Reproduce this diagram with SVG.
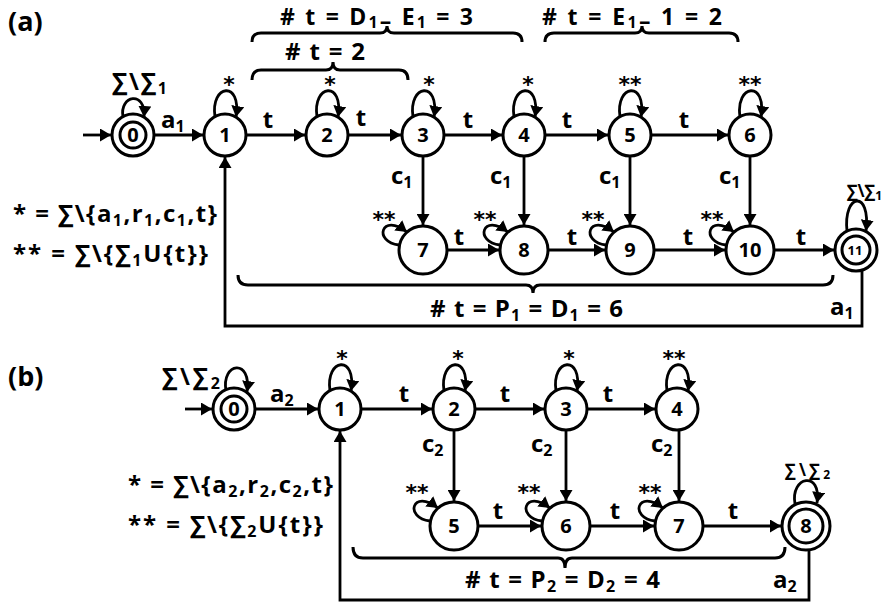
<svg xmlns="http://www.w3.org/2000/svg" width="883" height="608" viewBox="0 0 883 608">
<style>
text{font-family:'Open Sans','DejaVu Sans',sans-serif;font-weight:bold;fill:#000}
.l{font-size:24px}
.t23{font-size:23px}
.s{font-size:16px}
.sm{font-size:17px}
.ss{font-size:12px}
.n{font-size:20px;text-anchor:middle}
.m{text-anchor:middle}
.k{font-family:'DejaVu Sans',sans-serif;font-size:22px;text-anchor:middle}
.st{fill:#fff;stroke:#000;stroke-width:3}
.e{fill:none;stroke:#000;stroke-width:2.8;marker-end:url(#ah)}
.b{fill:none;stroke:#000;stroke-width:3}
</style>
<defs>
<marker id="ah" markerUnits="userSpaceOnUse" markerWidth="13" markerHeight="13" refX="11" refY="6.5" orient="auto"><path d="M0,0 L11,6.5 L0,13 z" fill="#000"/></marker>
</defs>

<!-- ===== (a) ===== -->
<text class="l" x="8" y="31" style="font-size:27px">(a)</text>

<g id="braces-a" class="braces">
<path class="b" d="M252,42 Q252,33 261,33 H380 Q387,33 387,26 Q387,33 394,33 H513 Q522,33 522,42"/>
<path class="b" d="M252,80 Q252,70 261,70 H326 Q333,70 333,62 Q333,70 340,70 H399 Q408,70 408,80"/>
<path class="b" d="M545,42 Q545,33 554,33 H635 Q642,33 642,26 Q642,33 649,33 H729 Q738,33 738,42"/>
<path class="b" d="M238,275 Q238,285 248,285 H526 Q533,285 533,293 Q533,285 540,285 H823 Q833,285 833,275"/>
<text class="t23" x="280" y="25" textLength="193"># t = D<tspan class="s" dy="3">1</tspan><tspan dy="1">– </tspan><tspan dy="-4">E</tspan><tspan class="s" dy="3">1</tspan><tspan dy="-3"> = 3</tspan></text>
<text class="l" x="285" y="60" textLength="80"># t = 2</text>
<text class="t23" x="542" y="25" textLength="180"># t = E<tspan class="s" dy="3">1</tspan><tspan dy="1">– </tspan><tspan dy="-4">1 = 2</tspan></text>
<text class="l" x="430" y="317" textLength="193"># t = P<tspan class="s" dy="4">1</tspan><tspan dy="-4"> = D</tspan><tspan class="s" dy="4">1</tspan><tspan dy="-4"> = 6</tspan></text>
</g>

<g id="legend-a">
<text class="l" x="13" y="222" textLength="204">* = ∑\{a<tspan class="s" dy="4">1</tspan><tspan dy="-4">,r</tspan><tspan class="s" dy="4">1</tspan><tspan dy="-4">,c</tspan><tspan class="s" dy="4">1</tspan><tspan dy="-4">,t}</tspan></text>
<text class="l" x="13" y="262" textLength="195">** = ∑\{∑<tspan class="s" dy="4">1</tspan><tspan dy="-4">U{t}}</tspan></text>
</g>

<g id="edges-a">
<path class="e" d="M83,135 H111"/>
<path class="e" d="M154,135 H203"/>
<path class="e" d="M246,135 H305"/>
<path class="e" d="M348,135 H401"/>
<path class="e" d="M444,135 H502"/>
<path class="e" d="M545,135 H608"/>
<path class="e" d="M651,135 H728"/>
<path class="e" d="M423,156 V225"/>
<path class="e" d="M524,156 V225"/>
<path class="e" d="M630,156 V225"/>
<path class="e" d="M750,156 V225"/>
<path class="e" d="M447,250 H499"/>
<path class="e" d="M548,250 H605"/>
<path class="e" d="M654,250 H725"/>
<path class="e" d="M774,250 H834"/>
<path class="e" d="M862,270 V326 H225 V157"/>
<!-- self loops -->
<path class="e" d="M123,117 C119,95 146,90 144,117"/>
<path class="e" d="M215,117 C210,84 242,80 236,117"/>
<path class="e" d="M317,117 C312,84 344,80 338,117"/>
<path class="e" d="M413,117 C408,84 440,80 434,117"/>
<path class="e" d="M514,117 C509,84 541,80 535,117"/>
<path class="e" d="M620,117 C615,84 647,80 641,117"/>
<path class="e" d="M740,117 C735,84 767,80 761,117"/>
<path class="e" d="M399,245 C373,242 381,212 407,232"/>
<path class="e" d="M500,245 C474,242 482,212 508,232"/>
<path class="e" d="M606,245 C580,242 588,212 614,232"/>
<path class="e" d="M726,245 C700,242 708,212 734,232"/>
<path class="e" d="M847,231 C843,193 871,189 866,231"/>
<!-- labels -->
<text class="l" x="112" y="90" textLength="55">∑\∑<tspan class="s" dy="4">1</tspan></text>
<text class="l" x="161" y="128">a<tspan class="s" dy="4">1</tspan></text>
<text class="l m" x="268" y="128">t</text>
<text class="l m" x="361" y="126">t</text>
<text class="l m" x="468" y="128">t</text>
<text class="l m" x="567" y="128">t</text>
<text class="l m" x="684" y="128">t</text>
<text class="l" x="391" y="184">c<tspan class="s" dy="4">1</tspan></text>
<text class="l" x="490" y="184">c<tspan class="s" dy="4">1</tspan></text>
<text class="l" x="599" y="184">c<tspan class="s" dy="4">1</tspan></text>
<text class="l" x="719" y="184">c<tspan class="s" dy="4">1</tspan></text>
<text class="l m" x="459" y="245">t</text>
<text class="l m" x="572" y="245">t</text>
<text class="l m" x="688" y="245">t</text>
<text class="l m" x="801" y="245">t</text>
<text class="k" x="229" y="92">*</text>
<text class="k" x="330" y="92">*</text>
<text class="k" x="429" y="92">*</text>
<text class="k" x="528" y="92">*</text>
<text class="k" x="630" y="92">**</text>
<text class="k" x="750" y="92">**</text>
<text class="k" x="384" y="227">**</text>
<text class="k" x="485" y="227">**</text>
<text class="k" x="593" y="227">**</text>
<text class="k" x="712" y="227">**</text>
<text class="sm" x="847" y="197" textLength="35">∑\∑<tspan class="ss" dy="3">1</tspan></text>
<text class="l" x="830" y="315">a<tspan class="s" dy="4">1</tspan></text>
</g>

<g id="a0"><circle class="st" cx="133" cy="135" r="21"/><circle class="st" cx="133" cy="135" r="13"/><text class="n" x="133" y="142">0</text></g>
<g id="a1"><circle class="st" cx="225" cy="135" r="21"/><text class="n" x="225" y="142">1</text></g>
<g id="a2"><circle class="st" cx="327" cy="135" r="21"/><text class="n" x="327" y="142">2</text></g>
<g id="a3"><circle class="st" cx="423" cy="135" r="21"/><text class="n" x="423" y="142">3</text></g>
<g id="a4"><circle class="st" cx="524" cy="135" r="21"/><text class="n" x="524" y="142">4</text></g>
<g id="a5"><circle class="st" cx="630" cy="135" r="21"/><text class="n" x="630" y="142">5</text></g>
<g id="a6"><circle class="st" cx="750" cy="135" r="21"/><text class="n" x="750" y="142">6</text></g>
<g id="a7"><circle class="st" cx="423" cy="250" r="24"/><text class="n" x="423" y="257">7</text></g>
<g id="a8"><circle class="st" cx="524" cy="250" r="24"/><text class="n" x="524" y="257">8</text></g>
<g id="a9"><circle class="st" cx="630" cy="250" r="24"/><text class="n" x="630" y="257">9</text></g>
<g id="a10"><circle class="st" cx="750" cy="250" r="24"/><text class="n" x="750" y="257">10</text></g>
<g id="a11"><circle class="st" cx="856" cy="250" r="21"/><circle class="st" cx="856" cy="250" r="14"/><text class="n" x="855" y="255" style="font-size:13px">11</text></g>

<!-- ===== (b) ===== -->
<text class="l" x="8" y="386" style="font-size:27px">(b)</text>

<g id="braces-b">
<path class="b" d="M353,547 Q353,558 363,558 H558 Q565,558 565,568 Q565,558 572,558 H775 Q785,558 785,547"/>
<text class="l" x="465" y="588" textLength="195"># t = P<tspan class="s" dy="4">2</tspan><tspan dy="-4"> = D</tspan><tspan class="s" dy="4">2</tspan><tspan dy="-4"> = 4</tspan></text>
</g>

<g id="legend-b">
<text class="l" x="128" y="493" textLength="205">* = ∑\{a<tspan class="s" dy="4">2</tspan><tspan dy="-4">,r</tspan><tspan class="s" dy="4">2</tspan><tspan dy="-4">,c</tspan><tspan class="s" dy="4">2</tspan><tspan dy="-4">,t}</tspan></text>
<text class="l" x="128" y="533" textLength="195">** = ∑\{∑<tspan class="s" dy="4">2</tspan><tspan dy="-4">U{t}}</tspan></text>
</g>

<g id="edges-b">
<path class="e" d="M185,409 H212"/>
<path class="e" d="M255,409 H318"/>
<path class="e" d="M361,409 H432"/>
<path class="e" d="M475,409 H544"/>
<path class="e" d="M587,409 H655"/>
<path class="e" d="M454,430 V501"/>
<path class="e" d="M566,430 V501"/>
<path class="e" d="M679,430 V501"/>
<path class="e" d="M478,526 H541"/>
<path class="e" d="M590,526 H654"/>
<path class="e" d="M703,526 H781"/>
<path class="e" d="M809,550 V600 H340 V431"/>
<!-- self loops -->
<path class="e" d="M226,391 C221,362 252,358 247,392"/>
<path class="e" d="M330,391 C325,358 357,354 351,391"/>
<path class="e" d="M444,391 C439,358 471,354 465,391"/>
<path class="e" d="M556,391 C551,358 583,354 577,391"/>
<path class="e" d="M667,391 C662,358 694,354 688,391"/>
<path class="e" d="M430,521 C404,518 412,488 438,508"/>
<path class="e" d="M542,521 C516,518 524,488 550,508"/>
<path class="e" d="M655,521 C629,518 637,488 663,508"/>
<path class="e" d="M795,504 C790,476 822,470 817,503"/>
<!-- labels -->
<text class="l" x="162" y="385" textLength="58">∑\∑<tspan class="s" dy="4">2</tspan></text>
<text class="l" x="270" y="402">a<tspan class="s" dy="4">2</tspan></text>
<text class="l m" x="404" y="402">t</text>
<text class="l m" x="505" y="402">t</text>
<text class="l m" x="608" y="402">t</text>
<text class="l" x="422" y="452">c<tspan class="s" dy="4">2</tspan></text>
<text class="l" x="531" y="452">c<tspan class="s" dy="4">2</tspan></text>
<text class="l" x="651" y="452">c<tspan class="s" dy="4">2</tspan></text>
<text class="l m" x="498" y="519">t</text>
<text class="l m" x="615" y="519">t</text>
<text class="l m" x="733" y="519">t</text>
<text class="k" x="342" y="366">*</text>
<text class="k" x="458" y="366">*</text>
<text class="k" x="569" y="366">*</text>
<text class="k" x="674" y="366">**</text>
<text class="k" x="417" y="500">**</text>
<text class="k" x="529" y="500">**</text>
<text class="k" x="650" y="500">**</text>
<text class="sm" x="785" y="476" textLength="45">∑\∑<tspan class="ss" dy="3">2</tspan></text>
<text class="l" x="773" y="588">a<tspan class="s" dy="4">2</tspan></text>
</g>

<g id="b0"><circle class="st" cx="234" cy="409" r="21"/><circle class="st" cx="234" cy="409" r="13"/><text class="n" x="234" y="416">0</text></g>
<g id="b1"><circle class="st" cx="340" cy="409" r="21"/><text class="n" x="340" y="416">1</text></g>
<g id="b2"><circle class="st" cx="454" cy="409" r="21"/><text class="n" x="454" y="416">2</text></g>
<g id="b3"><circle class="st" cx="566" cy="409" r="21"/><text class="n" x="566" y="416">3</text></g>
<g id="b4"><circle class="st" cx="677" cy="409" r="21"/><text class="n" x="677" y="416">4</text></g>
<g id="b5"><circle class="st" cx="454" cy="526" r="24"/><text class="n" x="454" y="533">5</text></g>
<g id="b6"><circle class="st" cx="566" cy="526" r="24"/><text class="n" x="566" y="533">6</text></g>
<g id="b7"><circle class="st" cx="679" cy="526" r="24"/><text class="n" x="679" y="533">7</text></g>
<g id="b8"><circle class="st" cx="806" cy="526" r="24"/><circle class="st" cx="806" cy="526" r="17"/><text class="n" x="806" y="533">8</text></g>
</svg>
